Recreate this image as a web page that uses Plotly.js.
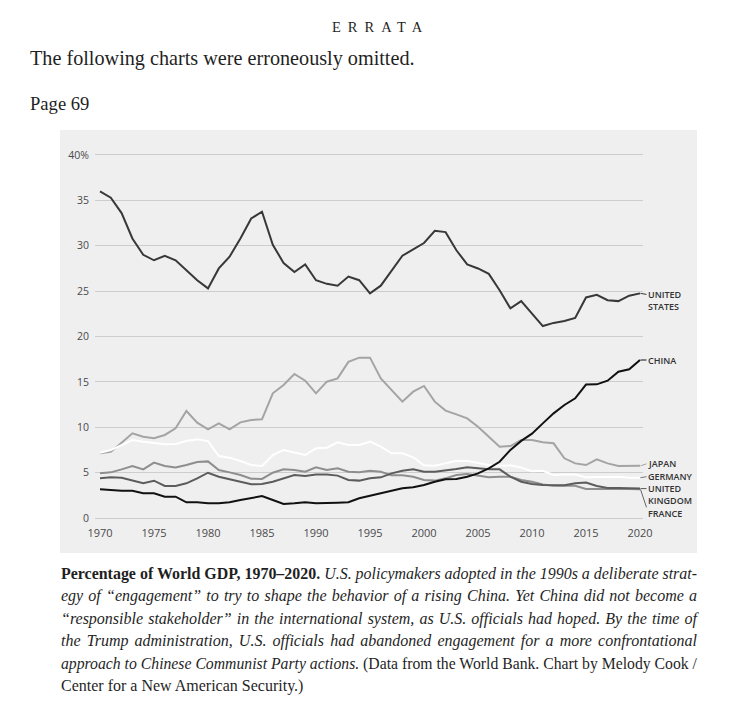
<!DOCTYPE html>
<html>
<head>
<meta charset="utf-8">
<script src="https://cdn.plot.ly/plotly-3.0.1.min.js"></script>
<style>
  html, body { margin:0; padding:0; background:#ffffff; width:750px; height:713px; overflow:hidden; }
  .serif { font-family: "Liberation Serif", "DejaVu Serif", serif; color:#1f1f1f; position:absolute; white-space:nowrap; }
  #errata { left:332px; top:20px; font-size:14.5px; line-height:14.5px; letter-spacing:7px; }
  #intro { left:30px; top:47.6px; font-size:20.2px; line-height:20.2px; }
  #page { left:30px; top:95.4px; font-size:18.6px; line-height:18.6px; }
  #chart { position:absolute; left:60px; top:130px; width:637px; height:423px; }
  #caption { position:absolute; left:61px; top:563px; width:636px; font-family:"Liberation Serif", serif; font-size:16px; line-height:22.45px; color:#1f1f1f; }
  #caption .ln { display:block; white-space:nowrap; height:22.45px; }
  #caption .ln span.inner { display:inline-block; transform-origin:0 50%; }
</style>
</head>
<body>
<div id="errata" class="serif">ERRATA</div>
<div id="intro" class="serif">The following charts were erroneously omitted.</div>
<div id="page" class="serif">Page 69</div>
<div id="chart"></div>
<div id="caption">
  <div class="ln j"><span class="inner"><b>Percentage of World GDP, 1970–2020.</b> <i>U.S. policymakers adopted in the 1990s a deliberate strat-</i></span></div>
  <div class="ln j"><span class="inner"><i>egy of “engagement” to try to shape the behavior of a rising China. Yet China did not become a</i></span></div>
  <div class="ln j"><span class="inner"><i>“responsible stakeholder” in the international system, as U.S. officials had hoped. By the time of</i></span></div>
  <div class="ln j"><span class="inner"><i>the Trump administration, U.S. officials had abandoned engagement for a more confrontational</i></span></div>
  <div class="ln j"><span class="inner"><i>approach to Chinese Communist Party actions.</i> (Data from the World Bank. Chart by Melody Cook /</span></div>
  <div class="ln"><span class="inner">Center for a New American Security.)</span></div>
</div>
<script>
// ---- data (share of world GDP, %) ----
var years = [];
for (var y = 1970; y <= 2020; y++) years.push(y);

var usValues = [36.0,35.3,33.6,30.8,29.0,28.4,28.9,28.4,27.3,26.2,
  25.3,27.5,28.8,30.8,33.0,33.75,30.1,28.1,27.1,27.95,
  26.2,25.8,25.6,26.6,26.2,24.75,25.6,27.3,28.9,29.6,
  30.3,31.65,31.5,29.5,27.95,27.5,26.9,25.1,23.1,23.9,
  22.55,21.15,21.5,21.7,22.05,24.3,24.6,24.0,23.9,24.5,
  24.75];
var chinaValues = [3.16,3.05,3.0,3.0,2.72,2.72,2.35,2.35,1.73,1.73,
  1.62,1.62,1.73,1.98,2.17,2.42,1.98,1.54,1.62,1.73,
  1.62,1.62,1.69,1.73,2.17,2.45,2.72,3.01,3.27,3.38,
  3.64,4.0,4.26,4.3,4.55,4.92,5.47,6.2,7.5,8.5,
  9.3,10.43,11.53,12.45,13.19,14.7,14.73,15.13,16.12,16.38,
  17.41];
var japanValues = [7.13,7.3,8.3,9.33,8.96,8.78,9.15,9.88,11.79,10.5,
  9.77,10.43,9.77,10.54,10.8,10.87,13.74,14.66,15.87,15.13,
  13.74,15.02,15.39,17.2,17.67,17.67,15.39,14.1,12.82,13.92,
  14.55,12.82,11.83,11.42,10.98,10.06,8.96,7.86,7.93,8.6,
  8.6,8.34,8.23,6.58,6.02,5.84,6.47,6.02,5.73,5.75,
  5.75];
var germanyValues = [7.2,7.5,8.04,8.6,8.41,8.23,8.12,8.15,8.48,8.67,
  8.48,6.83,6.65,6.28,5.84,5.73,6.94,7.49,7.2,6.94,
  7.68,7.75,8.34,8.04,8.04,8.41,7.86,7.13,7.13,6.69,
  5.8,5.75,6.02,6.3,6.28,6.02,5.84,5.75,5.8,5.55,
  5.15,5.2,4.74,4.8,4.8,4.48,4.48,4.48,4.55,4.44,
  4.44];
var franceValues = [4.92,5.03,5.36,5.73,5.36,6.1,5.73,5.58,5.84,6.17,
  6.24,5.29,5.03,4.74,4.33,4.3,4.99,5.36,5.29,5.1,
  5.58,5.29,5.47,5.1,5.03,5.2,5.1,4.7,4.7,4.55,
  4.19,4.12,4.37,4.74,4.85,4.63,4.48,4.55,4.55,4.19,
  4.0,3.7,3.55,3.55,3.55,3.2,3.2,3.2,3.27,3.2,
  3.16];
var ukValues = [4.37,4.48,4.44,4.11,3.82,4.11,3.53,3.53,3.82,4.37,
  4.99,4.55,4.3,4.0,3.71,3.75,4.0,4.37,4.74,4.63,
  4.8,4.8,4.67,4.19,4.12,4.37,4.48,4.92,5.2,5.36,
  5.1,5.1,5.29,5.4,5.58,5.47,5.36,5.36,4.55,4.0,
  3.75,3.64,3.6,3.6,3.82,3.9,3.53,3.31,3.31,3.27,
  3.24];

var yTickVals = [0,5,10,15,20,25,30,35,40];
var yTickText = ["0","5","10","15","20","25","30","35","40%"];
var xTickVals = [1970,1975,1980,1985,1990,1995,2000,2005,2010,2015,2020];

// label text and its vertical pixel offset (down = positive) from the series end
var series = [
  {name:"Japan", values:japanValues, color:"#a4a4a4", label:"JAPAN", lines:1, dy:-2, leadDy:-2, lead:"#a4a4a4"},
  {name:"Germany", values:germanyValues, color:"#ffffff", label:"GERMANY", lines:1, dy:-1, leadDy:-1, lead:"#7a7a7a"},
  {name:"France", values:franceValues, color:"#8e8e8e", label:"FRANCE", lines:1, dy:24, leadDy:18, lead:"#666666"},
  {name:"United Kingdom", values:ukValues, color:"#5c5c5c", label:"UNITED<br>KINGDOM", lines:2, dy:0.5, leadDy:0, lead:"#555555"},
  {name:"United States", values:usValues, color:"#383838", label:"UNITED<br>STATES", lines:2, dy:1, leadDy:1, lead:"#383838"},
  {name:"China", values:chinaValues, color:"#111111", label:"CHINA", lines:1, dy:0, leadDy:0, lead:"#111111"}
];

var xRange = [1969.537, 2020.278];

var traces = series.map(function(s){
  return {x:years, y:s.values, type:"scatter", mode:"lines", name:s.name,
    line:{color:s.color, width:2}, hoverinfo:"skip"};
});

var labelFont = {family:"Open Sans, Lato, sans-serif", size:9, color:"#333333", weight:600};
var lineGap = 9 * 1.3;
var annotations = [];
var shapes = [];
series.forEach(function(s){
  var lastX = years[years.length-1];
  var lastY = s.values[s.values.length-1];
  var paperX = (lastX - xRange[0]) / (xRange[1] - xRange[0]);
  // leader line from the series end to its label (pixel offsets, not clipped in x)
  shapes.push({type:"line", xref:"paper", yref:"y",
    xsizemode:"pixel", xanchor:paperX, x0:0.5, x1:6.5,
    ysizemode:"pixel", yanchor:lastY, y0:0, y1:-s.leadDy,
    line:{color:s.lead, width:1}});
  annotations.push({x:lastX, y:lastY, xref:"x", yref:"y", text:s.label,
    showarrow:false, xanchor:"left", yanchor:"middle", align:"left",
    xshift:6.5, yshift:-s.dy - (s.lines - 1) * lineGap / 2,
    font:labelFont, borderpad:0});
});

var layout = {
  width:637, height:423,
  margin:{l:35, r:54, t:22, b:32, pad:0},
  paper_bgcolor:"#efeff0", plot_bgcolor:"#efeff0",
  showlegend:false,
  font:{family:"Open Sans, Lato, sans-serif", size:11, color:"#4a4a4a"},
  xaxis:{range:xRange, tickvals:xTickVals, showgrid:false, zeroline:false,
    showline:false, ticks:"", ticklabelstandoff:4, fixedrange:true,
    tickfont:{family:"Open Sans, Lato, sans-serif", size:11, color:"#4a4a4a"}},
  yaxis:{range:[-0.33, 40.33], tickvals:yTickVals, ticktext:yTickText, showgrid:true,
    gridcolor:"#cdcdcd", gridwidth:1, zeroline:false, showline:false, ticks:"",
    ticklabelstandoff:5, fixedrange:true,
    tickfont:{family:"Open Sans, Lato, sans-serif", size:10.5, color:"#4a4a4a"}},
  annotations:annotations,
  shapes:shapes
};

Plotly.newPlot("chart", traces, layout, {staticPlot:true, displayModeBar:false});

// justify caption lines
var target = 636;
document.querySelectorAll("#caption .ln.j").forEach(function(ln){
  var inner = ln.querySelector(".inner");
  var w = inner.getBoundingClientRect().width;
  if (w < target) {
    var txt = inner.textContent;
    var spaces = (txt.match(/ /g) || []).length;
    inner.style.wordSpacing = ((target - w) / spaces) + "px";
  } else {
    inner.style.transform = "scaleX(" + (target / w) + ")";
  }
});
</script>
</body>
</html>
